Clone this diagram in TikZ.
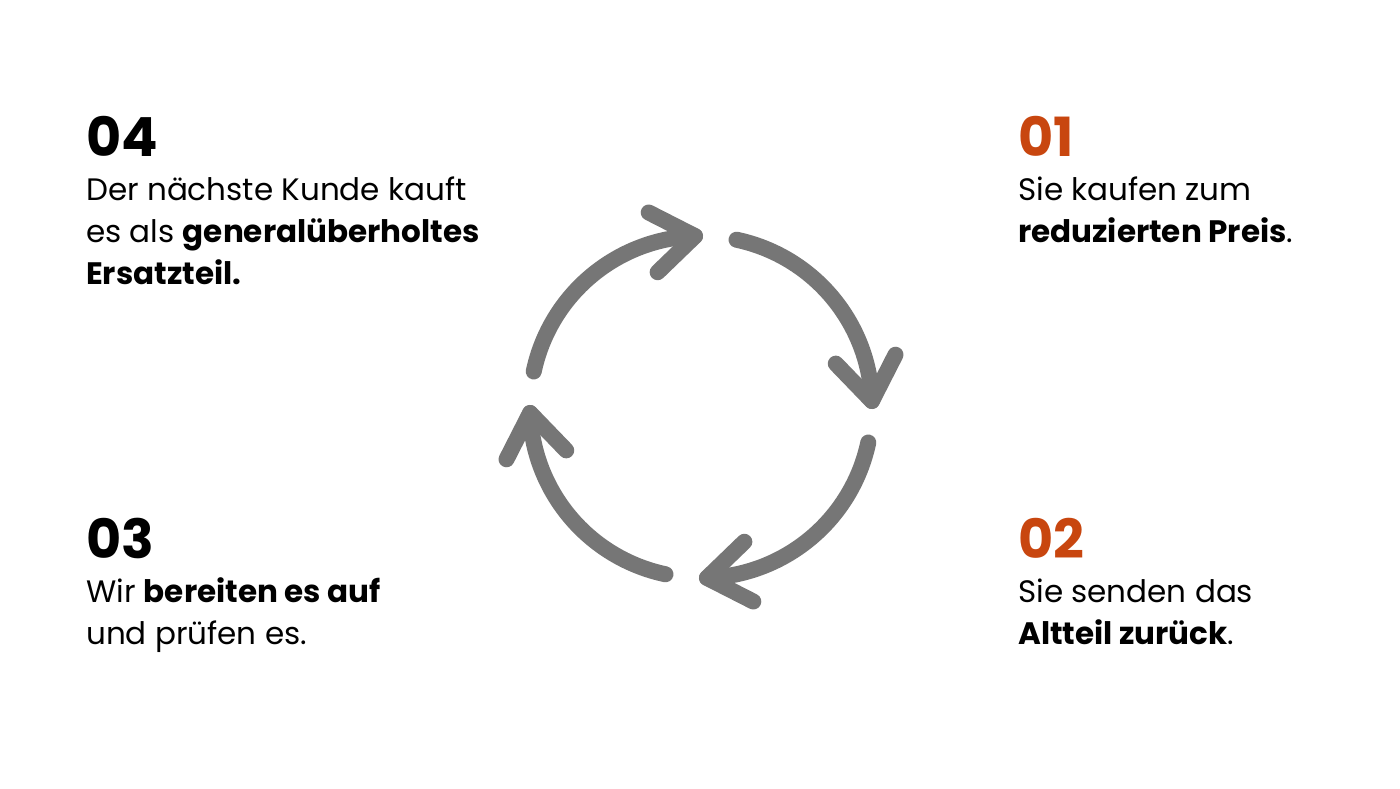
\documentclass[tikz,border=0pt]{standalone}
\usepackage{fontspec}
\setmainfont{Poppins}
\usetikzlibrary{calc}
\definecolor{accent}{RGB}{200,70,15}
\definecolor{cyclegray}{RGB}{118,118,118}
\begin{document}
\begin{tikzpicture}[x=1pt,y=1pt,
  num/.style={anchor=base west,inner sep=0pt,font=\fontsize{54}{60}\selectfont\bfseries},
  body/.style={anchor=base west,inner sep=0pt,font=\fontsize{31}{42}\selectfont},
  cyc/.style={draw=cyclegray,line width=16pt,line cap=round,line join=round}]
\fill[white] (0,0) rectangle (1400,788);
\useasboundingbox (0,0) rectangle (1400,788);
\coordinate (C) at (701,381);
\def\R{171}
\foreach \a/\n in {0/r,90/t,180/l,270/b}{
  \draw[cyc] ($(C)+(\a+78:\R)$) arc[start angle=\a+78, end angle=\a+2, radius=\R];
  \coordinate (tip\n) at ($(C)+(\a+2:\R)$);
  \draw[cyc] ($(tip\n)+(\a+134:52)$) -- (tip\n) -- ($(tip\n)+(\a+63:52)$);
}
% 04
\node[num] (n4) at (86,631) {04};
\node[body] (t4a) at (86,587) {Der nächste Kunde kauft};
\node[body] (t4b) at (86,545) {es als \textbf{generalüberholtes}};
\node[body] (t4c) at (86,503) {\textbf{Ersatzteil.}};
% 01
\node[num,text=accent] (n1) at (1018,631) {01};
\node[body] (t1a) at (1018,587) {Sie kaufen zum};
\node[body] (t1b) at (1018,545) {\textbf{reduzierten Preis}.};
% 03
\node[num] (n3) at (86,230) {03};
\node[body] (t3a) at (86,186) {Wir \textbf{bereiten es auf}};
\node[body] (t3b) at (86,144) {und prüfen es.};
% 02
\node[num,text=accent] (n2) at (1018,230) {02};
\node[body] (t2a) at (1018,186) {Sie senden das};
\node[body] (t2b) at (1018,144) {\textbf{Altteil zurück}.};
\end{tikzpicture}
\end{document}
